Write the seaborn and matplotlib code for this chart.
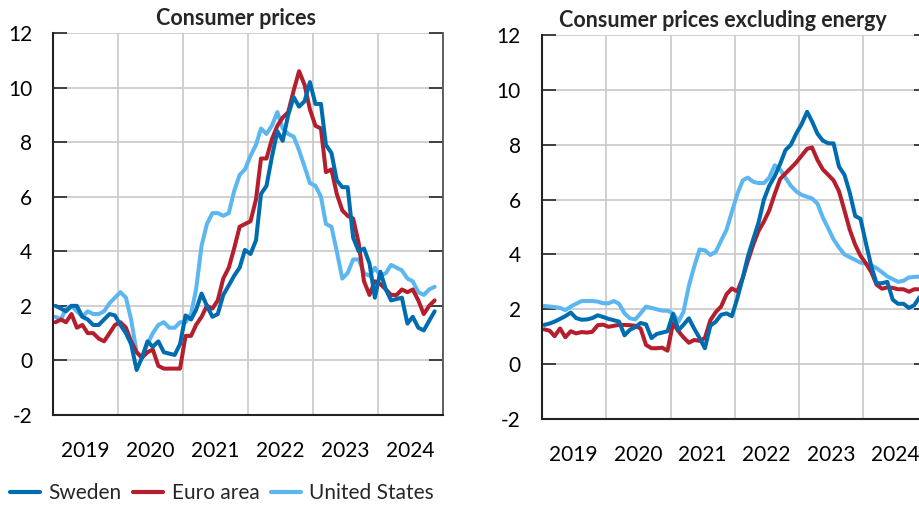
import numpy as np
import pandas as pd
import matplotlib
matplotlib.use("Agg")
import matplotlib.pyplot as plt
import matplotlib.dates as mdates
import seaborn as sns

# ---------------- data ----------------
series_names = ["Sweden", "Euro area", "United States"]
colors = {"Sweden": "#006CB0", "Euro area": "#B41E2D", "United States": "#5CB6F0"}

# Consumer prices (annual % change), Jan 2019 - Nov 2024
cpi_sweden = [2.0, 1.9, 1.8, 2.0, 2.0, 1.6, 1.5, 1.3, 1.3, 1.5, 1.7, 1.65,
              1.3, 1.0, 0.6, -0.35, 0.1, 0.7, 0.5, 0.7, 0.3, 0.25, 0.2, 0.6,
              1.65, 1.5, 1.85, 2.45, 2.0, 1.6, 1.7, 2.4, 2.75, 3.1, 3.4, 4.05,
              3.9, 4.4, 6.1, 6.4, 7.45, 8.4, 8.05, 9.0, 9.65, 9.3, 9.5, 10.2,
              9.4, 9.4, 7.9, 7.6, 6.6, 6.35, 6.35, 4.5, 4.0, 4.1, 3.55, 2.3,
              3.25, 2.6, 2.2, 2.25, 2.3, 1.35, 1.6, 1.2, 1.1, 1.45, 1.8]
cpi_euro = [1.4, 1.5, 1.4, 1.7, 1.2, 1.3, 1.0, 1.0, 0.8, 0.7, 1.0, 1.3,
            1.4, 1.2, 0.7, 0.3, 0.1, 0.3, 0.4, -0.2, -0.3, -0.3, -0.3, -0.3,
            0.9, 0.9, 1.3, 1.6, 2.0, 1.9, 2.2, 3.0, 3.4, 4.1, 4.9, 5.0,
            5.1, 5.9, 7.4, 7.4, 8.1, 8.6, 8.9, 9.1, 9.9, 10.6, 10.1, 9.2,
            8.6, 8.5, 6.9, 7.0, 6.1, 5.5, 5.3, 5.2, 4.3, 2.9, 2.4, 2.9,
            2.8, 2.6, 2.4, 2.4, 2.6, 2.5, 2.6, 2.2, 1.7, 2.0, 2.2]
cpi_us = [1.6, 1.5, 1.9, 2.0, 1.8, 1.6, 1.8, 1.7, 1.7, 1.8, 2.1, 2.3,
          2.5, 2.3, 1.5, 0.3, 0.1, 0.6, 1.0, 1.3, 1.4, 1.2, 1.2, 1.4,
          1.4, 1.7, 2.6, 4.2, 5.0, 5.4, 5.4, 5.3, 5.4, 6.2, 6.8, 7.0,
          7.5, 7.9, 8.5, 8.3, 8.6, 9.1, 8.5, 8.3, 8.2, 7.7, 7.1, 6.5,
          6.4, 6.0, 5.0, 4.9, 4.0, 3.0, 3.2, 3.7, 3.7, 3.2, 3.1, 3.4,
          3.1, 3.2, 3.5, 3.4, 3.3, 3.0, 2.9, 2.5, 2.4, 2.6, 2.7]

# Consumer prices excluding energy (annual % change), Jan 2019 - Nov 2024
exe_sweden = [1.43, 1.48, 1.55, 1.65, 1.75, 1.88, 1.68, 1.62, 1.63, 1.68, 1.78, 1.72,
              1.65, 1.6, 1.55, 1.05, 1.25, 1.35, 1.5, 1.45, 0.95, 1.1, 1.15, 1.2,
              1.83, 1.24, 1.43, 1.67, 1.3, 0.95, 0.58, 1.4, 1.55, 1.8, 1.85, 1.75,
              2.4, 3.15, 3.9, 4.55, 5.15, 6.0, 6.5, 6.85, 7.3, 7.8, 8.0, 8.4,
              8.75, 9.2, 8.85, 8.4, 8.15, 8.05, 8.05, 7.2, 6.9, 6.25, 5.4, 5.3,
              4.4, 3.55, 2.95, 2.95, 3.0, 2.35, 2.2, 2.2, 2.05, 2.15, 2.45]
exe_euro = [1.27, 1.22, 1.02, 1.3, 0.98, 1.2, 1.12, 1.17, 1.15, 1.18, 1.42, 1.44,
            1.36, 1.4, 1.43, 1.43, 1.42, 1.4, 1.3, 0.7, 0.58, 0.58, 0.6, 0.49,
            1.49, 1.2, 0.98, 0.78, 0.88, 0.85, 0.95, 1.6, 1.9, 2.1, 2.55, 2.76,
            2.65, 3.15, 3.75, 4.35, 4.85, 5.2, 5.6, 6.2, 6.75, 6.95, 7.15, 7.35,
            7.6, 7.85, 7.9, 7.44, 7.1, 6.9, 6.7, 6.3, 5.6, 4.9, 4.35, 3.95,
            3.67, 3.35, 2.9, 2.75, 2.8, 2.78, 2.73, 2.73, 2.64, 2.73, 2.73]
exe_us = [2.12, 2.1, 2.08, 2.05, 1.97, 2.1, 2.2, 2.3, 2.3, 2.3, 2.28, 2.22,
          2.22, 2.3, 2.2, 1.85, 1.67, 1.63, 1.85, 2.1, 2.05, 2.0, 1.95, 1.95,
          1.85, 1.55, 1.9, 2.85, 3.55, 4.18, 4.15, 3.98, 4.1, 4.5, 4.9, 5.55,
          6.2, 6.7, 6.8, 6.65, 6.6, 6.6, 6.8, 7.25, 7.1, 6.8, 6.5, 6.3,
          6.17, 6.1, 6.04, 5.85, 5.35, 4.95, 4.55, 4.25, 4.0, 3.9, 3.8, 3.7,
          3.67, 3.6, 3.5, 3.35, 3.2, 3.1, 3.0, 3.04, 3.16, 3.18, 3.19]

titles = ["Consumer prices", "Consumer prices excluding energy"]
y_ticks = [-2, 0, 2, 4, 6, 8, 10, 12]

dates = pd.date_range("2019-01-01", periods=len(cpi_sweden), freq="MS") + pd.Timedelta(days=14)


def long_frame(sw, eu, us):
    return pd.concat([
        pd.DataFrame({"date": dates, "value": sw, "series": "Sweden"}),
        pd.DataFrame({"date": dates, "value": eu, "series": "Euro area"}),
        pd.DataFrame({"date": dates, "value": us, "series": "United States"}),
    ], ignore_index=True)


frames = [long_frame(cpi_sweden, cpi_euro, cpi_us),
          long_frame(exe_sweden, exe_euro, exe_us)]

# ---------------- style ----------------
sns.set_style("white")
plt.rcParams["font.family"] = ["Lato", "DejaVu Sans"]

W, H = 920, 509
fig = plt.figure(figsize=(W / 100, H / 100), dpi=100)

# axes boxes in pixels: (left, top, right, bottom)
boxes = [(53, 33, 443, 415), (541.7, 35, 928, 419)]
axes = []
for (l, t, r, b) in boxes:
    axes.append(fig.add_axes([l / W, (H - b) / H, (r - l) / W, (b - t) / H]))

draw_order = ["United States", "Euro area", "Sweden"]
for ax, df, title in zip(axes, frames, titles):
    sns.lineplot(data=df, x="date", y="value", hue="series", hue_order=draw_order,
                 palette=colors, linewidth=2.9, ax=ax, legend=False)
    ax.set_xlim(pd.Timestamp("2019-01-01"), pd.Timestamp("2025-01-01"))
    ax.set_ylim(-2, 12)
    ax.set_yticks(y_ticks)
    ax.set_yticklabels([str(v) for v in y_ticks])
    ax.set_xlabel("")
    ax.set_ylabel("")

    ax.xaxis.set_major_locator(mdates.YearLocator())
    ax.xaxis.set_major_formatter(plt.NullFormatter())
    ax.xaxis.set_minor_locator(mdates.MonthLocator(bymonth=7, bymonthday=1))
    ax.xaxis.set_minor_formatter(mdates.DateFormatter("%Y"))
    ax.tick_params(axis="x", which="both", length=0, pad=19, labelsize=15, colors="#000000")
    ax.tick_params(axis="y", which="major", direction="in", length=10, width=1.3,
                   left=True, right=True, labelright=False, pad=15, labelsize=15,
                   color="#333333", labelcolor="#000000")

    ax.grid(True, axis="both", which="major", color="#C8C8C8", linewidth=1.2)
    ax.set_axisbelow(True)

    ax.spines["top"].set_visible(False)
    ax.spines["left"].set_color("#222222")
    ax.spines["left"].set_linewidth(1.5)
    ax.spines["bottom"].set_color("#222222")
    ax.spines["bottom"].set_linewidth(1.5)
    ax.spines["right"].set_color("#555555")
    ax.spines["right"].set_linewidth(1.3)

    ax.set_title(title, x=0.469, fontsize=15.5, fontweight="bold", pad=6)

# legend
handles = [plt.Line2D([], [], color=colors[s], linewidth=3.0) for s in series_names]
fig.legend(handles, series_names, loc="center left",
           bbox_to_anchor=(10 / W, 1 - 493 / H), ncol=3, frameon=False,
           fontsize=15, handlelength=1.45, handletextpad=0.4,
           columnspacing=0.55, borderpad=0, borderaxespad=0)

fig.savefig("out.png", dpi=100)
